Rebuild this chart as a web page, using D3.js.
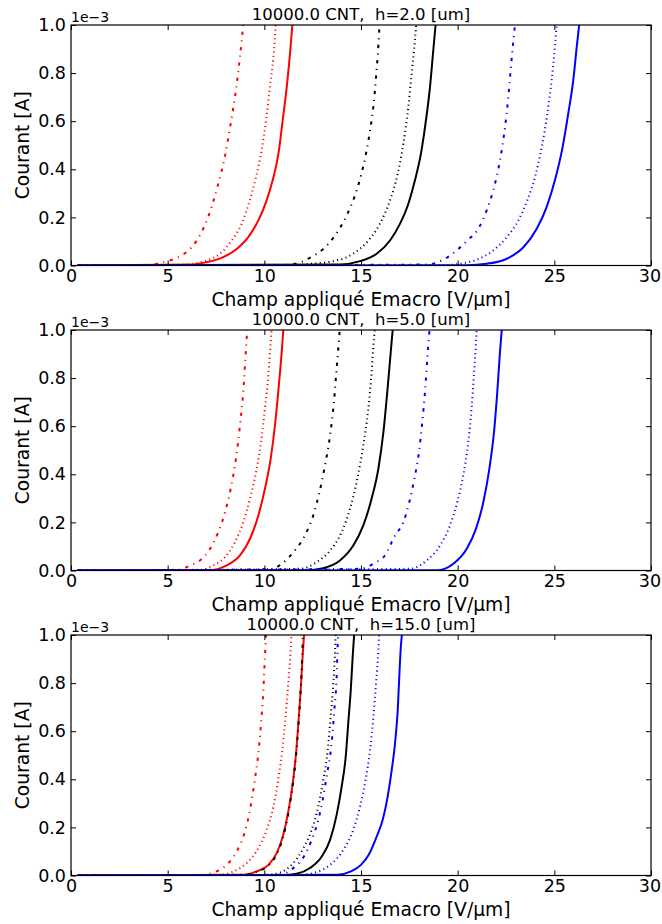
<!DOCTYPE html>
<html><head><meta charset="utf-8">
<script src="https://cdn.jsdelivr.net/npm/d3@7"></script>
<style>body{margin:0;background:#fff}svg{display:block;font-family:"DejaVu Sans",sans-serif}</style>
</head><body>
<svg id="c" width="662" height="924"></svg>
<script>
// ---------- DATA ----------
const xTicks = [0, 5, 10, 15, 20, 25, 30];
const yTicks = [0.0, 0.2, 0.4, 0.6, 0.8, 1.0];
const titles = ["10000.0 CNT,\u00a0 h=2.0 [um]", "10000.0 CNT,\u00a0 h=5.0 [um]", "10000.0 CNT,\u00a0 h=15.0 [um]"];
const xLabel = "Champ appliqué Emacro [V/µm]";
const yLabel = "Courant [A]";
const offsetText = "1e\u22123";
// series order: red -., red :, red -, black -., black :, black -, blue -., blue :, blue -
const seriesColors = ["#ff0000", "#ff0000", "#ff0000", "#000000", "#000000", "#000000", "#0000ff", "#0000ff", "#0000ff"];
const seriesStyles = ["dashdot", "dotted", "solid", "dashdot", "dotted", "solid", "dashdot", "dotted", "solid"];
// current values in units of 1e-3 A, x in V/µm
const curvesH2 = [
  [[0.35,0],[4.0,0.002],[4.78,0.014],[5.55,0.035],[6.24,0.076],[6.71,0.132],[7.05,0.192],[7.57,0.326],[7.97,0.458],[8.26,0.590],[8.53,0.729],[8.74,0.868],[8.93,1.02]],
  [[0.35,0],[5.5,0.002],[6.33,0.007],[7.02,0.021],[7.71,0.049],[8.31,0.104],[8.83,0.174],[9.22,0.264],[9.57,0.368],[9.86,0.479],[10.09,0.604],[10.29,0.743],[10.47,0.868],[10.61,1.02]],
  [[0.35,0],[6.16,0.004],[7.02,0.014],[7.88,0.035],[8.57,0.069],[9.17,0.118],[9.69,0.1875],[10.12,0.271],[10.43,0.354],[10.73,0.465],[10.95,0.604],[11.16,0.743],[11.33,0.882],[11.47,1.02]],
  [[0.35,0],[11.0,0.002],[11.59,0.007],[12.36,0.032],[13.05,0.069],[13.66,0.125],[14.26,0.208],[14.66,0.285],[14.98,0.368],[15.26,0.465],[15.47,0.5625],[15.64,0.66],[15.78,0.785],[15.9,0.917],[15.97,1.02]],
  [[0.35,0],[11.6,0.002],[12.36,0.007],[13.57,0.018],[14.6,0.049],[15.38,0.104],[15.98,0.174],[16.5,0.271],[16.9,0.382],[17.19,0.507],[17.45,0.66],[17.62,0.799],[17.79,0.9375],[17.87,1.02]],
  [[0.35,0],[13.91,0.004],[14.95,0.018],[15.81,0.049],[16.5,0.104],[17.02,0.174],[17.45,0.257],[17.79,0.354],[18.1,0.465],[18.36,0.604],[18.57,0.743],[18.74,0.896],[18.88,1.02]],
  [[0.35,0],[18.4,0.004],[19.26,0.024],[19.95,0.0625],[20.5,0.104],[21.07,0.153],[21.5,0.229],[21.84,0.3125],[22.19,0.4375],[22.45,0.576],[22.62,0.701],[22.74,0.8125],[22.85,0.91],[22.99,1.02]],
  [[0.35,0],[19.3,0.002],[20.12,0.007],[20.98,0.024],[21.84,0.0625],[22.54,0.118],[23.14,0.1875],[23.6,0.271],[24.0,0.368],[24.35,0.493],[24.64,0.632],[24.86,0.771],[25.03,0.91],[25.14,1.02]],
  [[0.35,0],[20.47,0.001],[21.5,0.007],[22.54,0.028],[23.4,0.076],[24.09,0.153],[24.6,0.243],[25.03,0.354],[25.43,0.493],[25.72,0.632],[25.98,0.771],[26.16,0.91],[26.31,1.02]]
];
const curvesH5 = [
  [[0.35,0],[5.55,0.003],[6.16,0.021],[6.67,0.042],[7.19,0.09],[7.62,0.16],[7.97,0.243],[8.26,0.34],[8.53,0.465],[8.74,0.604],[8.91,0.743],[9.02,0.882],[9.13,1.02]],
  [[0.35,0],[6.67,0.003],[7.36,0.021],[7.97,0.056],[8.48,0.118],[8.91,0.201],[9.26,0.299],[9.57,0.41],[9.83,0.535],[10.03,0.674],[10.21,0.8125],[10.33,0.951],[10.39,1.02]],
  [[0.35,0],[7.19,0.001],[8.05,0.021],[8.74,0.0625],[9.26,0.132],[9.69,0.229],[10.03,0.34],[10.33,0.465],[10.55,0.604],[10.72,0.743],[10.9,0.91],[11.0,1.02]],
  [[0.35,0],[10.29,0.004],[10.9,0.028],[11.5,0.076],[12.1,0.146],[12.53,0.229],[12.85,0.326],[13.14,0.4375],[13.4,0.5625],[13.6,0.701],[13.74,0.84],[13.88,0.979],[13.92,1.02]],
  [[0.35,0],[11.84,0.007],[12.71,0.035],[13.4,0.083],[14.0,0.16],[14.43,0.257],[14.81,0.382],[15.12,0.521],[15.38,0.674],[15.55,0.826],[15.67,0.965],[15.73,1.02]],
  [[0.35,0],[12.19,0.001],[13.05,0.01],[13.91,0.042],[14.6,0.104],[15.12,0.1875],[15.55,0.299],[15.9,0.424],[16.16,0.576],[16.36,0.743],[16.54,0.91],[16.66,1.02]],
  [[0.35,0],[14.95,0.007],[15.72,0.032],[16.24,0.0625],[16.76,0.146],[17.19,0.201],[17.5,0.285],[17.76,0.382],[18.0,0.493],[18.17,0.618],[18.31,0.743],[18.43,0.882],[18.53,0.986],[18.58,1.02]],
  [[0.35,0],[17.54,0.007],[18.4,0.042],[19.09,0.104],[19.6,0.1875],[19.98,0.285],[20.29,0.396],[20.55,0.535],[20.72,0.674],[20.84,0.8125],[20.95,0.951],[21.0,1.02]],
  [[0.35,0],[18.92,0.001],[19.78,0.028],[20.47,0.09],[20.95,0.174],[21.33,0.285],[21.64,0.424],[21.88,0.576],[22.05,0.743],[22.19,0.91],[22.3,1.02]]
];
const curvesH15 = [
  [[0.35,0],[6.8,0.002],[7.36,0.012],[8.05,0.044],[8.57,0.1],[8.97,0.176],[9.26,0.273],[9.48,0.384],[9.69,0.508],[9.83,0.633],[9.95,0.771],[10.03,0.91],[10.1,1.02]],
  [[0.35,0],[7.71,0.003],[8.4,0.017],[9.09,0.052],[9.69,0.114],[10.12,0.19],[10.47,0.287],[10.72,0.398],[10.93,0.522],[11.1,0.661],[11.24,0.799],[11.36,0.938],[11.42,1.02]],
  [[0.35,0],[8.91,0.003],[9.6,0.017],[10.21,0.044],[10.64,0.093],[10.98,0.169],[11.24,0.266],[11.47,0.384],[11.64,0.508],[11.76,0.633],[11.88,0.771],[11.98,0.91],[12.07,1.02]],
  [[0.35,0],[9.0,0.003],[9.65,0.017],[10.25,0.044],[10.67,0.093],[11.0,0.169],[11.26,0.266],[11.48,0.384],[11.65,0.508],[11.77,0.633],[11.88,0.771],[11.96,0.91],[12.0,1.02]],
  [[0.35,0],[10.0,0.002],[10.81,0.012],[11.5,0.052],[12.02,0.114],[12.45,0.19],[12.79,0.287],[13.05,0.398],[13.28,0.522],[13.43,0.661],[13.57,0.799],[13.66,0.938],[13.7,1.02]],
  [[0.35,0],[11.0,0.001],[11.67,0.007],[12.36,0.031],[12.97,0.079],[13.4,0.148],[13.74,0.252],[14.0,0.37],[14.21,0.494],[14.34,0.633],[14.47,0.771],[14.57,0.91],[14.66,1.02]],
  [[0.35,0],[10.81,0.003],[11.5,0.031],[12.1,0.086],[12.45,0.148],[12.79,0.231],[13.02,0.315],[13.22,0.411],[13.48,0.55],[13.62,0.688],[13.74,0.827],[13.79,0.951],[13.84,1.02]],
  [[0.35,0],[11.8,0.002],[12.53,0.01],[13.4,0.044],[14.09,0.107],[14.6,0.19],[14.95,0.287],[15.24,0.398],[15.47,0.522],[15.64,0.661],[15.78,0.799],[15.9,0.938],[15.95,1.02]],
  [[0.35,0],[13.79,0.003],[14.48,0.017],[15.0,0.044],[15.4,0.086],[15.81,0.162],[16.12,0.231],[16.38,0.328],[16.59,0.439],[16.76,0.55],[16.9,0.688],[16.98,0.827],[17.06,0.95],[17.14,1.02]]
];
const allCurves = [curvesH2, curvesH5, curvesH15];

// ---------- LAYOUT ----------
const left = 71, right = 651;
const panelTops = [25, 330, 635];
const panelH = 240.5;
const dashes = { dashdot: "3.3,5.5,1.1,5.5", dotted: "1.1,3.3", solid: null };
const widths = { dashdot: 2, dotted: 2, solid: 2 };

const svg = d3.select("#c");
const x = d3.scaleLinear().domain([0, 30]).range([left, right]);

allCurves.forEach((curves, i) => {
  const top = panelTops[i], bottom = top + panelH;
  const y = d3.scaleLinear().domain([0, 1]).range([bottom, top]);
  const g = svg.append("g");
  const cid = "clip" + i;
  svg.append("clipPath").attr("id", cid).append("rect")
    .attr("x", left).attr("y", top).attr("width", right - left).attr("height", bottom - top);

  const line = d3.line().x(d => x(d[0])).y(d => y(d[1])).curve(d3.curveMonotoneX);
  const lg = g.append("g").attr("clip-path", `url(#${cid})`);
  curves.forEach((pts, k) => {
    const st = seriesStyles[k];
    lg.append("path").datum(pts).attr("d", line)
      .attr("fill", "none").attr("stroke", seriesColors[k])
      .attr("stroke-width", widths[st])
      .attr("stroke-dasharray", dashes[st])
      .attr("stroke-linejoin", "round");
  });

  // axes (ticks inward)
  const fs = "17.5px";
  const ax = g.append("g").attr("transform", `translate(0,${bottom})`)
    .call(d3.axisBottom(x).tickValues(xTicks).tickFormat(d3.format("d")).tickSizeInner(-5).tickSizeOuter(0).tickPadding(4.5));
  const axT = g.append("g").attr("transform", `translate(0,${top})`)
    .call(d3.axisTop(x).tickValues(xTicks).tickFormat("").tickSizeInner(-5).tickSizeOuter(0));
  const ay = g.append("g").attr("transform", `translate(${left},0)`)
    .call(d3.axisLeft(y).tickValues(yTicks).tickFormat(d3.format(".1f")).tickSizeInner(-5).tickSizeOuter(0).tickPadding(5));
  const ayR = g.append("g").attr("transform", `translate(${right},0)`)
    .call(d3.axisRight(y).tickValues(yTicks).tickFormat("").tickSizeInner(-5).tickSizeOuter(0));
  [ax, axT, ay, ayR].forEach(a => {
    a.select(".domain").remove();
    a.selectAll("text").attr("font-size", fs).attr("fill", "#000").attr("font-family", "DejaVu Sans");
    a.selectAll("line").attr("stroke", "#000").attr("stroke-width", 1);
  });
  ax.selectAll(".tick text").filter(d => d === 30).attr("dx", "-1.5");
  g.append("rect").attr("x", left).attr("y", top).attr("width", right - left).attr("height", bottom - top)
    .attr("fill", "none").attr("stroke", "#000").attr("stroke-width", 1.2);

  g.append("text").attr("x", (left + right) / 2).attr("y", top - 5).attr("text-anchor", "middle")
    .attr("font-size", "16.5px").text(titles[i]);
  g.append("text").attr("x", left).attr("y", top - 3.5).attr("font-size", "14px").text(offsetText);
  g.append("text").attr("x", (left + right) / 2).attr("y", bottom + 40).attr("text-anchor", "middle")
    .attr("font-size", "18.7px").text(xLabel);
  g.append("text").attr("transform", `translate(29,${(top + bottom) / 2}) rotate(-90)`).attr("text-anchor", "middle")
    .attr("font-size", "18.7px").text(yLabel);
});
</script>
</body></html>
